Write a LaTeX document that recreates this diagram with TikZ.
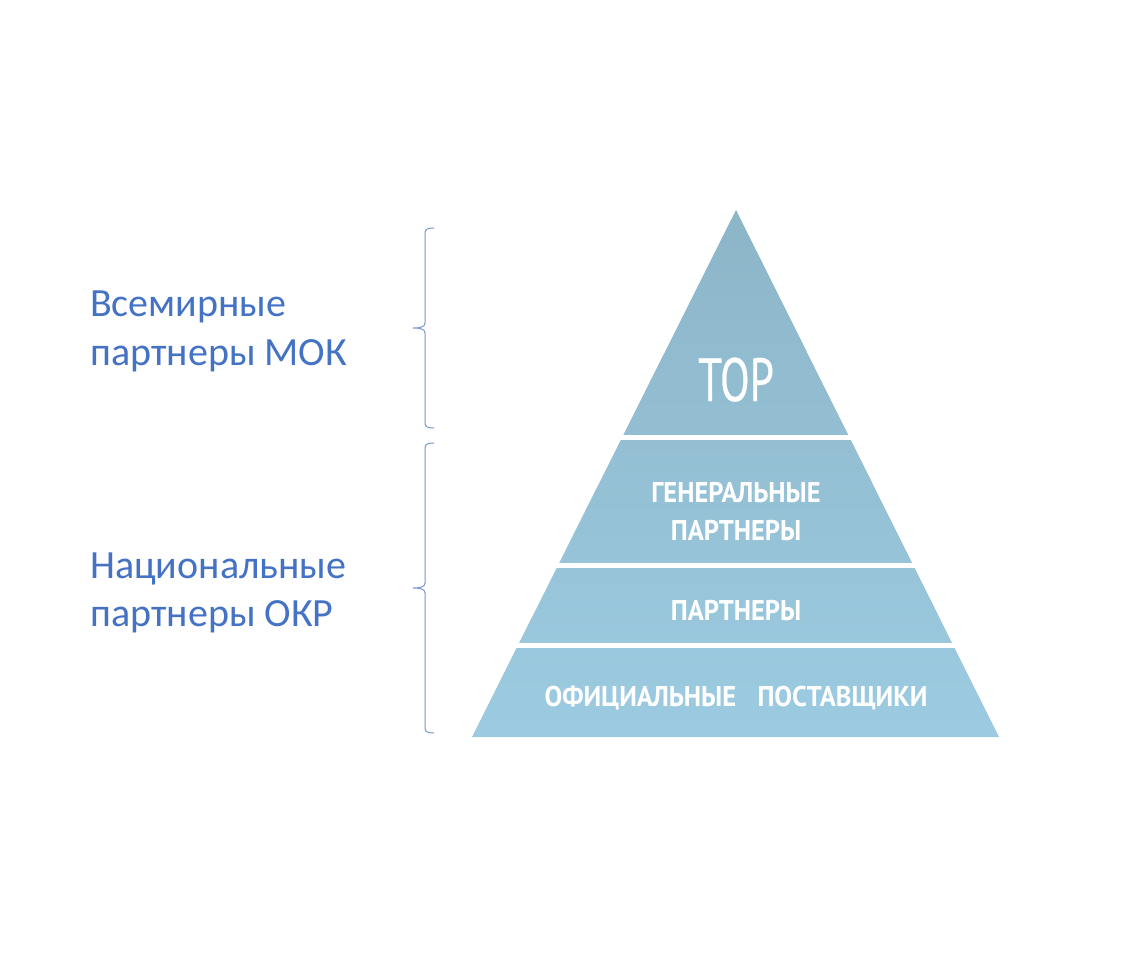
\documentclass[tikz,border=0pt]{standalone}
\usepackage{fontspec}
\setmainfont{Carlito}
\newfontfamily\condtop[FakeStretch=0.71,FakeBold=0.4]{PT Sans}
\newfontfamily\condbold[FakeStretch=0.93]{PT Sans Bold}
\definecolor{toptier}{RGB}{141,181,200}
\definecolor{bottier}{RGB}{156,203,225}
\definecolor{lbl}{RGB}{68,114,196}
\definecolor{brk}{RGB}{120,150,210}
\tikzset{
  lefttext/.style={anchor=base west,inner sep=0pt,text=lbl,font=\fontsize{40}{44}\selectfont},
  tiertext/.style={anchor=base,inner sep=0pt,text=white,font=\condbold\fontsize{28.5}{34}\selectfont},
  sep/.style={draw=white,line width=5pt},
  bracket/.style={draw=brk,line width=1pt}
}
\begin{document}
\begin{tikzpicture}[x=1pt,y=-1pt]
\useasboundingbox[fill=white] (0,0) rectangle (1140,958);
% pyramid
\shade[top color=toptier,bottom color=bottier] (736,210) -- (999,737) -- (472,737) -- cycle;
\draw[sep] (600,437.5) -- (870,437.5);
\draw[sep] (540,565.5) -- (935,565.5);
\draw[sep] (500,645.5) -- (975,645.5);
% tier labels
\node[tiertext,font=\condtop\fontsize{61}{64}\selectfont] (top) at (736,401) {TOP};
\node[tiertext] (gen1) at (736,502) {ГЕНЕРАЛЬНЫЕ};
\node[tiertext] (gen2) at (736,540) {ПАРТНЕРЫ};
\node[tiertext] (part) at (736,620) {ПАРТНЕРЫ};
\node[tiertext] (offi) at (736,706) {ОФИЦИАЛЬНЫЕ\hspace{0.75em}ПОСТАВЩИКИ};
% brackets
\draw[bracket] (434,228) .. controls (428,228) and (425,229) .. (425,233) -- (425,323) .. controls (425,327) and (420,328) .. (413,328) .. controls (420,328) and (425,329) .. (425,333) -- (425,423) .. controls (425,427) and (428,428) .. (434,428);
\draw[bracket] (434,443) .. controls (428,443) and (425,444) .. (425,448) -- (425,583) .. controls (425,587) and (420,588) .. (413,588) .. controls (420,588) and (425,589) .. (425,593) -- (425,728) .. controls (425,732) and (428,733) .. (434,733);
% left labels
\node[lefttext] (w1) at (90,316) {Всемирные};
\node[lefttext] (w2) at (90,365) {партнеры МОК};
\node[lefttext] (n1) at (90,578) {Национальные};
\node[lefttext] (n2) at (90,626) {партнеры ОКР};
\end{tikzpicture}
\end{document}
